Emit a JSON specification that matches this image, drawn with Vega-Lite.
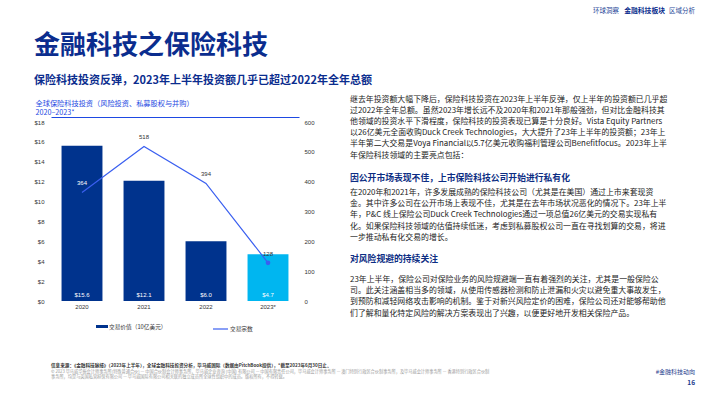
{
  "$schema": "https://vega.github.io/schema/vega-lite/v6.json",
  "background": "white",
  "padding": {"left": 33, "top": 6, "right": 5, "bottom": 0},
  "config": {
    "view": {"stroke": null},
    "font": "Noto Sans CJK SC",
    "axis": {"grid": false, "domain": false, "ticks": false, "labelFont": "Liberation Sans", "labelFontSize": 6, "labelColor": "#333333", "title": null, "labelOverlap": false, "labelSeparation": 0},
    "axisY": {"labelOverlap": false},
    "axisLeft": {"labelOverlap": false},
    "axisRight": {"labelOverlap": false},
    "axisQuantitative": {"labelOverlap": false},
    "legend": {"labelFont": "Noto Sans CJK SC", "labelFontSize": 5.7, "labelColor": "#333333", "title": null, "labelOffset": 1, "padding": 0}
  },
  "spacing": 30,
  "resolve": {"scale": {"fill": "independent", "stroke": "independent"}, "legend": {"fill": "independent", "stroke": "independent"}},
  "vconcat": [
    {
      "spacing": 16,
      "resolve": {"scale": {"fill": "independent", "stroke": "independent"}, "legend": {"fill": "independent", "stroke": "independent"}},
      "vconcat": [
        {
          "width": 644,
          "height": 10,
          "encoding": {
            "x": {"datum": 1, "type": "quantitative", "scale": {"domain": [0, 1]}, "axis": null},
            "y": {"datum": 0.5, "type": "quantitative", "scale": {"domain": [0, 1]}, "axis": null},
            "text": {"field": "text"}
          },
          "layer": [
            {
              "data": {"values": [{"text": "区域分析"}]},
              "mark": {"type": "text", "align": "right", "baseline": "middle", "fontSize": 6.5, "color": "#2a4a9a"}
            },
            {
              "data": {"values": [{"text": "金融科技板块"}]},
              "mark": {"type": "text", "align": "right", "baseline": "middle", "dx": -30, "fontSize": 6.8, "fontWeight": "bold", "color": "#0b2d8e"}
            },
            {
              "data": {"values": [{"text": "环球洞察"}]},
              "mark": {"type": "text", "align": "right", "baseline": "middle", "dx": -76, "fontSize": 6.5, "color": "#2a4a9a"}
            }
          ]
        },
        {
          "title": {
            "text": "金融科技之保险科技",
            "subtitle": "保险科技投资反弹，2023年上半年投资额几乎已超过2022年全年总额",
            "anchor": "start", "frame": "bounds",
            "font": "Noto Sans CJK SC", "fontSize": 26, "fontWeight": "bold", "color": "#0b2d8e",
            "subtitleFont": "Noto Sans CJK SC", "subtitleFontSize": 11, "subtitleFontWeight": "bold", "subtitleColor": "#0b2d8e",
            "subtitlePadding": 16, "offset": 10
          },
          "spacing": 35,
          "resolve": {"scale": {"fill": "independent", "stroke": "independent"}, "legend": {"fill": "independent", "stroke": "independent"}},
          "hconcat": [
            {
              "width": 248,
              "height": 179,
              "data": {"values": [
                {"year": "2020", "value": 15.6, "deals": 364},
                {"year": "2021", "value": 12.1, "deals": 518},
                {"year": "2022", "value": 6.0, "deals": 394},
                {"year": "2023*", "value": 4.7, "deals": 128}
              ]},
              "layer": [
                {
                  "layer": [
                    {
                      "mark": {"type": "bar"},
                      "encoding": {
                        "x": {"field": "year", "type": "nominal", "sort": null,
                              "scale": {"paddingInner": 0.34, "paddingOuter": 0.17},
                              "axis": {"orient": "bottom", "labelAngle": 0, "labelPadding": 2.5}},
                        "y": {"field": "value", "type": "quantitative", "scale": {"domain": [0, 18], "nice": false},
                              "axis": {"orient": "left", "tickCount": 9, "labelExpr": "'$' + datum.value", "labelPadding": 7, "labelOverlap": false, "labelSeparation": 0}},
                        "fill": {
                          "condition": {"test": "datum.year === '2023*'", "value": "#00b6f0"},
                          "datum": "交易价值（10亿美元）",
                          "scale": {"range": ["#00338d"]},
                          "legend": {"orient": "none", "legendX": 45, "legendY": 198.5, "symbolType": "M-1,-0.25H1V0.25H-1Z", "symbolSize": 144, "symbolStrokeWidth": 0}
                        }
                      }
                    },
                    {
                      "mark": {"type": "text", "baseline": "bottom", "dy": -3, "fontSize": 6, "font": "Liberation Sans", "color": "white"},
                      "encoding": {
                        "x": {"field": "year", "type": "nominal", "sort": null},
                        "y": {"datum": 0, "type": "quantitative", "axis": {"labelOverlap": false}},
                        "text": {"field": "value", "type": "quantitative", "format": "$.1f"}
                      }
                    }
                  ]
                },
                {
                  "layer": [
                    {
                      "mark": {"type": "line", "strokeWidth": 1.2},
                      "encoding": {
                        "x": {"field": "year", "type": "nominal", "sort": null,
                              "axis": {"orient": "top", "labels": false, "domain": true, "domainColor": "#1e49e2", "domainWidth": 1, "offset": 5,
                                       "title": ["全球保险科技投资（风险投资、私募股权与并购）", "2020–2023*"],
                                       "titleFont": "Noto Sans CJK SC", "titleFontSize": 7.2, "titleFontWeight": "normal", "titleColor": "#1e49e2",
                                       "titleLineHeight": 8.6, "titleAnchor": "start", "titleAlign": "left", "titleX": -16, "titlePadding": 0.5}},
                        "y": {"field": "deals", "type": "quantitative", "scale": {"domain": [0, 600], "nice": false},
                              "axis": {"orient": "right", "tickCount": 6, "labelPadding": 5, "labelOverlap": false, "labelSeparation": 0}},
                        "stroke": {
                          "datum": "交易宗数",
                          "scale": {"range": ["#3a5ff0"]},
                          "legend": {"orient": "none", "legendX": 161, "legendY": 198.5, "symbolType": "stroke", "symbolSize": 225, "symbolStrokeWidth": 1.2}
                        }
                      }
                    },
                    {
                      "transform": [{"filter": "datum.year === '2023*'"}],
                      "mark": {"type": "circle", "size": 22, "color": "#3a5ff0", "opacity": 1},
                      "encoding": {
                        "x": {"field": "year", "type": "nominal", "sort": null},
                        "y": {"field": "deals", "type": "quantitative", "axis": {"labelOverlap": false}}
                      }
                    },
                    {
                      "mark": {"type": "text", "dy": -9, "fontSize": 6, "font": "Liberation Sans"},
                      "encoding": {
                        "x": {"field": "year", "type": "nominal", "sort": null},
                        "y": {"field": "deals", "type": "quantitative", "axis": {"labelOverlap": false}},
                        "text": {"field": "deals", "type": "quantitative"},
                        "color": {"condition": {"test": "datum.year === '2020'", "value": "white"}, "value": "#333333"}
                      }
                    }
                  ]
                }
              ],
              "resolve": {"scale": {"y": "independent"}, "axis": {"x": "independent"}}
            },
            {
              "width": 330,
              "height": 190,
              "data": {"values": [
                {"row": 0, "kind": "body", "text": "继去年投资额大幅下降后，保险科技投资在2023年上半年反弹，仅上半年的投资额已几乎超"},
                {"row": 1, "kind": "body", "text": "过2022年全年总额。虽然2023年增长远不及2020年和2021年那般强劲，但对比金融科技其"},
                {"row": 2, "kind": "body", "text": "他领域的投资水平下滑程度，保险科技的投资表现已算是十分良好。Vista Equity Partners"},
                {"row": 3, "kind": "body", "text": "以26亿美元全面收购Duck Creek Technologies，大大提升了23年上半年的投资额；23年上"},
                {"row": 4, "kind": "body", "text": "半年第二大交易是Voya Financial以5.7亿美元收购福利管理公司Benefitfocus。2023年上半"},
                {"row": 5, "kind": "body", "text": "年保险科技领域的主要亮点包括："},
                {"row": 7, "kind": "heading", "text": "因公开市场表现不佳，上市保险科技公司开始进行私有化"},
                {"row": 8, "kind": "body", "text": "在2020年和2021年，许多发展成熟的保险科技公司（尤其是在美国）通过上市来套现资"},
                {"row": 9, "kind": "body", "text": "金。其中许多公司在公开市场上表现不佳，尤其是在去年市场状况恶化的情况下。23年上半"},
                {"row": 10, "kind": "body", "text": "年，P&C 线上保险公司Duck Creek Technologies通过一项总值26亿美元的交易实现私有"},
                {"row": 11, "kind": "body", "text": "化。如果保险科技领域的估值持续低迷，考虑到私募股权公司一直在寻找划算的交易，将进"},
                {"row": 12, "kind": "body", "text": "一步推动私有化交易的增长。"},
                {"row": 14, "kind": "heading", "text": "对风险规避的持续关注"},
                {"row": 16, "kind": "body", "text": "23年上半年，保险公司对保险业务的风险规避端一直有着强烈的关注，尤其是一般保险公"},
                {"row": 17, "kind": "body", "text": "司。此关注涵盖相当多的领域，从使用传感器检测和防止泄漏和火灾以避免重大事故发生，"},
                {"row": 18, "kind": "body", "text": "到预防和减轻网络攻击影响的机制。鉴于对新兴风险定价的困难，保险公司还对能够帮助他"},
                {"row": 19, "kind": "body", "text": "们了解和量化特定风险的解决方案表现出了兴趣，以便更好地开发相关保险产品。"}
              ]},
              "encoding": {
                "x": {"datum": 0, "type": "quantitative", "scale": {"domain": [0, 1]}, "axis": null},
                "y": {"field": "row", "type": "quantitative", "scale": {"domain": [2, 19], "nice": false, "zero": false, "reverse": true}, "axis": null},
                "text": {"field": "text"}
              },
              "layer": [
                {
                  "transform": [{"filter": "datum.kind === 'body' && datum.row < 8"}],
                  "mark": {"type": "text", "align": "left", "baseline": "middle", "fontSize": 7.9, "color": "#222222"}
                },
                {
                  "transform": [{"filter": "datum.kind === 'body' && datum.row >= 8 && datum.row <= 12"}],
                  "mark": {"type": "text", "align": "left", "baseline": "middle", "dy": 4, "fontSize": 7.9, "color": "#222222"}
                },
                {
                  "transform": [{"filter": "datum.kind === 'body' && datum.row > 12"}],
                  "mark": {"type": "text", "align": "left", "baseline": "middle", "dy": 1.5, "fontSize": 7.9, "color": "#222222"}
                },
                {
                  "transform": [{"filter": "datum.kind === 'heading' && datum.row < 10"}],
                  "mark": {"type": "text", "align": "left", "baseline": "middle", "fontSize": 8.8, "fontWeight": "bold", "color": "#0c2d83"}
                },
                {
                  "transform": [{"filter": "datum.kind === 'heading' && datum.row > 10"}],
                  "mark": {"type": "text", "align": "left", "baseline": "middle", "dy": 3, "fontSize": 8.8, "fontWeight": "bold", "color": "#0c2d83"}
                }
              ]
            }
          ]
        }
      ]
    },
    {
      "width": 644,
      "height": 16.5,
      "data": {"values": [
        {"row": 0, "kind": "source", "text": "信息来源：《金融科技脉搏》（2023年上半年），全球金融科技投资分析，毕马威国际（数据由PitchBook提供），*截至2023年6月30日止。"},
        {"row": 1, "kind": "copy", "text": "© 2023 毕马威华振会计师事务所(特殊普通合伙) — 中国合伙制会计师事务所，毕马威企业咨询 (中国) 有限公司 — 中国有限责任公司，毕马威会计师事务所 — 澳门特别行政区合伙制事务所，及毕马威会计师事务所 — 香港特别行政区合伙制"},
        {"row": 2, "kind": "copy", "text": "事务所，均是与英国私营担保有限公司 — 毕马威国际有限公司相关联的独立成员所全球性组织中的成员。版权所有，不得转载。"},
        {"row": 1, "kind": "tag", "text": "#金融科技动向"},
        {"row": 3, "kind": "page", "text": "16"}
      ]},
      "encoding": {
        "y": {"field": "row", "type": "quantitative", "scale": {"domain": [0, 3], "nice": false, "reverse": true}, "axis": null},
        "text": {"field": "text"}
      },
      "layer": [
        {
          "transform": [{"filter": "datum.kind === 'source'"}],
          "mark": {"type": "text", "align": "left", "baseline": "middle", "fontSize": 4.6, "fontWeight": "bold", "color": "#333333"},
          "encoding": {"x": {"datum": 0, "type": "quantitative", "scale": {"domain": [0, 1]}, "axis": null}}
        },
        {
          "transform": [{"filter": "datum.kind === 'copy'"}],
          "mark": {"type": "text", "align": "left", "baseline": "middle", "fontSize": 4.2, "color": "#9a9a9a"},
          "encoding": {"x": {"datum": 0, "type": "quantitative", "scale": {"domain": [0, 1]}, "axis": null}}
        },
        {
          "transform": [{"filter": "datum.kind === 'tag'"}],
          "mark": {"type": "text", "align": "right", "baseline": "middle", "fontSize": 6, "color": "#1e3c8c"},
          "encoding": {"x": {"datum": 1, "type": "quantitative", "scale": {"domain": [0, 1]}, "axis": null}}
        },
        {
          "transform": [{"filter": "datum.kind === 'page'"}],
          "mark": {"type": "text", "align": "right", "baseline": "middle", "fontSize": 6.5, "fontWeight": "bold", "color": "#1e3c8c"},
          "encoding": {"x": {"datum": 1, "type": "quantitative", "scale": {"domain": [0, 1]}, "axis": null}}
        }
      ]
    }
  ]
}
